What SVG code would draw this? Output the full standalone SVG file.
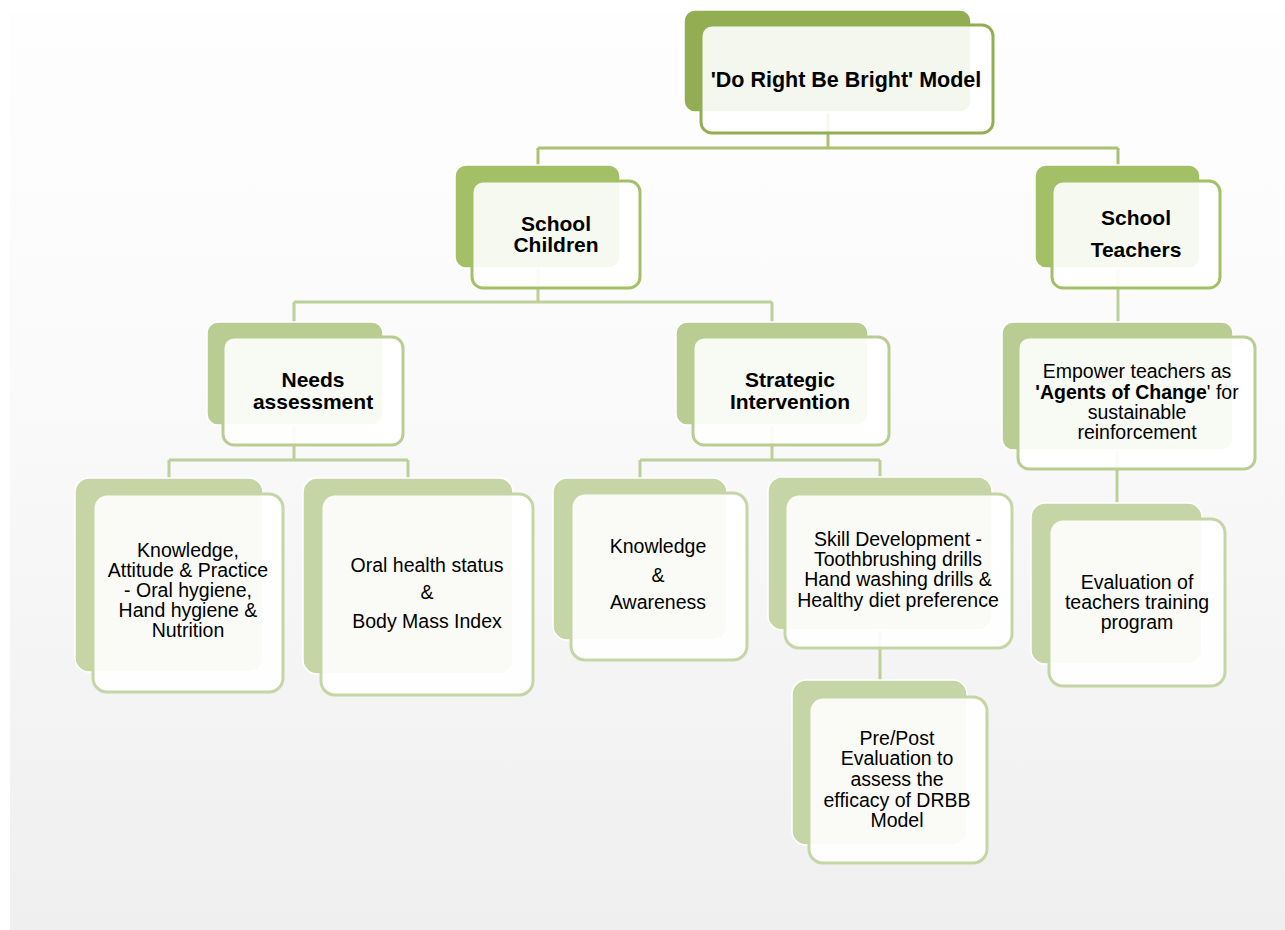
<svg xmlns="http://www.w3.org/2000/svg" width="1285" height="930" viewBox="0 0 1285 930">
<defs>
<linearGradient id="bg" x1="0" y1="0" x2="0" y2="1">
<stop offset="0" stop-color="#fefefe"/>
<stop offset="0.4" stop-color="#fafafa"/>
<stop offset="1" stop-color="#efefef"/>
</linearGradient>
</defs>
<style>
.back{stroke:#ffffff;stroke-width:1.5}
.front{fill:#ffffff;fill-opacity:0.9;stroke-width:3}
.l1b{fill:#93ad52}.l1f{stroke:#93ad52}
.l2b{fill:#a3c066}.l2f{stroke:#a3c066}
.l3b{fill:#b9cd92}.l3f{stroke:#b9cd92}
.l4b{fill:#c5d5a6}.l4f{stroke:#c5d5a6}
.c1{stroke:#a9c272;stroke-width:3;fill:none}
.c2{stroke:#bcd09a;stroke-width:3;fill:none}
text{font-family:"Liberation Sans",Arial,sans-serif;fill:#000;text-anchor:middle}
.b{font-weight:bold}
.t1{font-size:21.5px;font-weight:bold}
.t2{font-size:21px;font-weight:bold}
.t4{font-size:19.5px}
</style>
<rect x="0" y="0" width="1285" height="930" fill="#ffffff"/>
<rect x="10" y="12" width="1275" height="918" fill="url(#bg)"/>

<g id="connectors">
<path class="c1" d="M828 110 V148 M538 148 H1118 M538 148 V166 M1118 148 V166"/>
<path class="c2" d="M538 268 V302 M294 302 H772 M294 302 V322 M772 302 V322"/>
<path class="c2" d="M1118 268 V322"/>
<path class="c2" d="M294 424 V460 M169 460 H408 M169 460 V478 M408 460 V478"/>
<path class="c2" d="M772 424 V460 M640 460 H880 M640 460 V478 M880 460 V478"/>
<path class="c2" d="M880 628 V680"/>
<path class="c2" d="M1117 450 V503"/>
</g>

<g id="n-model">
<rect class="back l1b" x="684" y="10" width="287" height="102" rx="11"/>
<rect class="front l1f" x="701" y="25" width="292" height="108" rx="11"/>
<text class="t1" x="846" y="87">'Do Right Be Bright' Model</text>
</g>

<g id="n-children">
<rect class="back l2b" x="455" y="165" width="165" height="103" rx="11"/>
<rect class="front l2f" x="472" y="181" width="168" height="107" rx="11"/>
<text class="t2" x="556" y="231">School</text>
<text class="t2" x="556" y="252">Children</text>
</g>

<g id="n-teachers">
<rect class="back l2b" x="1035" y="165" width="165" height="103" rx="11"/>
<rect class="front l2f" x="1052" y="181" width="168" height="107" rx="11"/>
<text class="t2" x="1136" y="225">School</text>
<text class="t2" x="1136" y="257">Teachers</text>
</g>

<g id="n-needs">
<rect class="back l3b" x="207" y="322" width="176" height="103" rx="11"/>
<rect class="front l3f" x="223" y="337" width="180" height="108" rx="11"/>
<text class="t2" x="313" y="387">Needs</text>
<text class="t2" x="313" y="409">assessment</text>
</g>

<g id="n-strategic">
<rect class="back l3b" x="676" y="322" width="192" height="103" rx="11"/>
<rect class="front l3f" x="693" y="337" width="196" height="108" rx="11"/>
<text class="t2" x="790" y="387">Strategic</text>
<text class="t2" x="790" y="409">Intervention</text>
</g>

<g id="n-empower">
<rect class="back l3b" x="1002" y="322" width="231" height="128" rx="11"/>
<rect class="front l3f" x="1018" y="337" width="237" height="132" rx="11"/>
<text class="t4" x="1137" y="378">Empower teachers as</text>
<text class="t4" x="1137" y="399"><tspan class="b">'Agents of Change</tspan>' for</text>
<text class="t4" x="1137" y="419">sustainable</text>
<text class="t4" x="1137" y="439">reinforcement</text>
</g>

<g id="n-kap">
<rect class="back l4b" x="75" y="478" width="188" height="194" rx="14"/>
<rect class="front l4f" x="93" y="494" width="190" height="198" rx="14"/>
<text class="t4" x="188" y="557">Knowledge,</text>
<text class="t4" x="188" y="577">Attitude &amp; Practice</text>
<text class="t4" x="188" y="597">- Oral hygiene,</text>
<text class="t4" x="188" y="617">Hand hygiene &amp;</text>
<text class="t4" x="188" y="637">Nutrition</text>
</g>

<g id="n-oral">
<rect class="back l4b" x="303" y="478" width="210" height="196" rx="14"/>
<rect class="front l4f" x="321" y="494" width="212" height="201" rx="14"/>
<text class="t4" x="427" y="572">Oral health status</text>
<text class="t4" x="427" y="599">&amp;</text>
<text class="t4" x="427" y="628">Body Mass Index</text>
</g>

<g id="n-knowledge">
<rect class="back l4b" x="553" y="478" width="174" height="162" rx="14"/>
<rect class="front l4f" x="571" y="493" width="176" height="167" rx="14"/>
<text class="t4" x="658" y="553">Knowledge</text>
<text class="t4" x="658" y="582">&amp;</text>
<text class="t4" x="658" y="609">Awareness</text>
</g>

<g id="n-skill">
<rect class="back l4b" x="768" y="477" width="224" height="153" rx="14"/>
<rect class="front l4f" x="785" y="494" width="227" height="154" rx="14"/>
<text class="t4" x="898" y="546">Skill Development -</text>
<text class="t4" x="898" y="566">Toothbrushing drills</text>
<text class="t4" x="898" y="586">Hand washing drills &amp;</text>
<text class="t4" x="898" y="607">Healthy diet preference</text>
</g>

<g id="n-prepost">
<rect class="back l4b" x="792" y="680" width="175" height="165" rx="14"/>
<rect class="front l4f" x="809" y="697" width="178" height="166" rx="14"/>
<text class="t4" x="897" y="745">Pre/Post</text>
<text class="t4" x="897" y="765">Evaluation to</text>
<text class="t4" x="897" y="786">assess the</text>
<text class="t4" x="897" y="807">efficacy of DRBB</text>
<text class="t4" x="897" y="827">Model</text>
</g>

<g id="n-evaluation">
<rect class="back l4b" x="1031" y="503" width="171" height="161" rx="14"/>
<rect class="front l4f" x="1049" y="519" width="176" height="167" rx="14"/>
<text class="t4" x="1137" y="589">Evaluation of</text>
<text class="t4" x="1137" y="609">teachers training</text>
<text class="t4" x="1137" y="629">program</text>
</g>
</svg>
